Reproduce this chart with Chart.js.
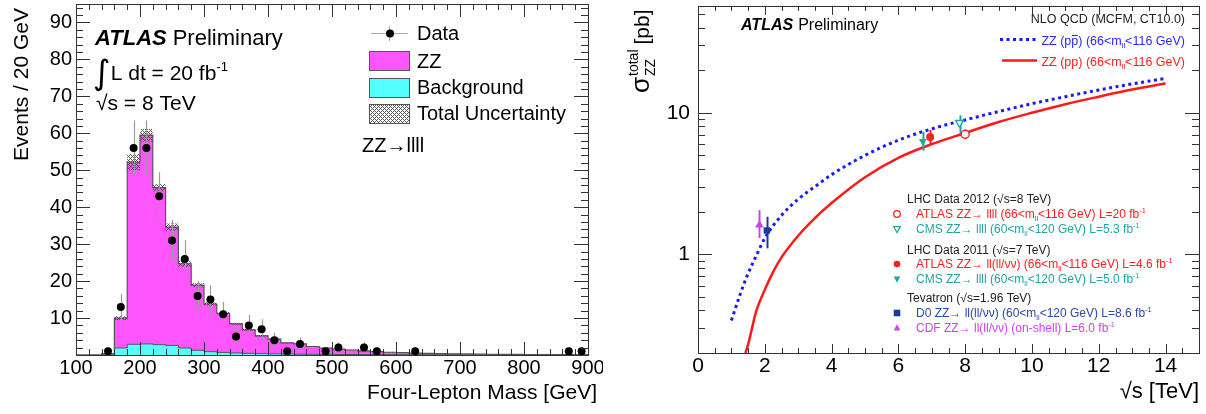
<!DOCTYPE html>
<html>
<head>
<meta charset="utf-8">
<script src="https://cdn.jsdelivr.net/npm/chart.js@4.4.0/dist/chart.umd.min.js"></script>
<style>
  html, body { margin: 0; padding: 0; background: #fff; }
  #wrap { position: relative; width: 1206px; height: 414px; }
  .panel { position: absolute; top: 0; width: 603px; height: 414px; }
  #leftPanel { left: 0; }
  #rightPanel { left: 603px; }
</style>
</head>
<body>
<div id="wrap">
  <div class="panel" id="leftPanel"><canvas id="massChart"></canvas></div>
  <div class="panel" id="rightPanel"><canvas id="xsecChart"></canvas></div>
</div>
<script>
// ---- Panel izquierdo: masa de cuatro leptones (bins de 20 GeV) ----
const binWidth = 20;
const binLowEdges = [100, 120, 140, 160, 180, 200, 220, 240, 260, 280,
                     300, 320, 340, 360, 380, 400, 420, 440, 460, 480,
                     500, 520, 540, 560, 580, 600, 620, 640, 660, 680,
                     700, 720, 740, 760, 780, 800, 820, 840, 860, 880];
// ZZ + background (apilado)
const totalExpected = [0, 0, 0.3, 10, 52.2, 59.5, 45.3, 34.6, 24.7, 18.9,
                       13.8, 11.3, 8.4, 6.8, 5.2, 4.3, 3.3, 3.0, 2.3, 1.9,
                       1.6, 1.35, 1.1, 0.9, 0.75, 0.62, 0.52, 0.45, 0.38, 0.32,
                       0.28, 0.24, 0.2, 0.17, 0.15, 0.13, 0.11, 0.09, 0.08, 0.07];
const backgroundExp = [0, 0, 0.2, 1.9, 2.9, 3.0, 2.8, 2.6, 1.9, 1.3,
                       0.9, 0.7, 0.55, 0.45, 0.38, 0.32, 0.27, 0.23, 0.2, 0.17,
                       0.15, 0.13, 0.11, 0.1, 0.09, 0.08, 0.07, 0.06, 0.05, 0.05,
                       0.04, 0.04, 0.03, 0.03, 0.03, 0.02, 0.02, 0.02, 0.02, 0.01];
const totalUncert = [0, 0, 0.05, 0.5, 2.2, 1.7, 1.0, 1.0, 0.9, 0.55,
                     0.4, 0.35, 0.3, 0.25, 0.2, 0.18, 0.15, 0.12, 0.1, 0.09,
                     0.08, 0.07, 0.06, 0.05, 0.05, 0.04, 0.04, 0.03, 0.03, 0.03,
                     0.02, 0.02, 0.02, 0.02, 0.02, 0.01, 0.01, 0.01, 0.01, 0.01];
const dataMass   = [150, 170, 190, 210, 230, 250, 270, 290, 310, 330, 350, 370,
                    390, 410, 430, 450, 490, 510, 550, 570, 630, 870, 890];
const dataEvents = [1, 13, 56, 56, 43, 31, 26, 16, 15, 11, 5, 8,
                    7, 4, 1, 3, 1, 2, 2, 1, 1, 1, 1];
const massTicks = [100, 200, 300, 400, 500, 600, 700, 800, 900];
const eventTicks = [10, 20, 30, 40, 50, 60, 70, 80, 90];

// ---- Panel derecho: sección eficaz ZZ vs sqrt(s) ----
const ppbarSqrtS = [1.0, 1.25, 1.5, 1.75, 2.0, 2.5, 3, 3.5, 4, 5, 6, 7, 8, 9, 10, 11, 12, 13, 14];
const ppbarXsec  = [0.34, 0.51, 0.73, 0.98, 1.3, 1.88, 2.45, 3.0, 3.65, 5.0, 6.4, 7.7, 8.9, 10.2, 11.6, 13.0, 14.5, 16.0, 17.5];
const ppSqrtS    = [1.42, 1.5, 1.75, 2.0, 2.25, 2.5, 3, 3.5, 4, 5, 6, 7, 8, 9, 10, 11, 12, 13, 14];
const ppXsec     = [0.2, 0.23, 0.4, 0.56, 0.75, 0.95, 1.35, 1.8, 2.3, 3.5, 4.8, 6.0, 7.2, 8.6, 10.0, 11.5, 13.0, 14.6, 16.1];
const measNames   = ['ATLAS 2012', 'CMS 2012', 'ATLAS 2011', 'CMS 2011', 'D0', 'CDF'];
const measSqrtS   = [8.0, 7.83, 6.95, 6.73, 2.06, 1.84];
const measXsec    = [7.05, 8.5, 6.75, 6.3, 1.47, 1.61];
const measErrUp   = [0.55, 1.1, 0.8, 1.0, 0.37, 0.44];
const measErrDown = [0.55, 1.4, 0.9, 0.9, 0.37, 0.31];
const sqrtSTicks = [0, 2, 4, 6, 8, 10, 12, 14];
const xsecTicks = [1, 10];

const FONT = '"Liberation Sans", Arial, Helvetica, sans-serif';
Chart.defaults.font.family = FONT;
Chart.defaults.color = '#000';
Chart.defaults.animation = false;
Chart.defaults.plugins.legend.display = false;
Chart.defaults.plugins.tooltip.enabled = false;

// patrón de la incertidumbre (rayado cruzado)
function makeHatch() {
    const c = document.createElement('canvas');
    c.width = 4; c.height = 4;
    const g = c.getContext('2d');
    g.fillStyle = 'rgba(70,70,70,0.9)';
    for (let i = 0; i < 4; i++) {
        for (let j = 0; j < 4; j++) {
            if ((i + j) % 4 === 0 || (i - j + 4) % 4 === 0) g.fillRect(i, j, 1, 1);
        }
    }
    return g.createPattern(c, 'repeat');
}
const hatch = makeHatch();

function stepPoints(values) {
    const pts = binLowEdges.map((x, i) => ({ x, y: values[i] }));
    pts.push({ x: binLowEdges[binLowEdges.length - 1] + binWidth, y: values[values.length - 1] });
    return pts;
}

// barras de error verticales, dibujadas justo antes de los puntos
const errorBars = {
    id: 'errorBars',
    beforeDatasetDraw(chart, args) {
        const ds = chart.data.datasets[args.index];
        if (!ds.errUp) return;
        const { ctx, chartArea: a, scales: { x, y } } = chart;
        ctx.save();
        ctx.beginPath();
        ctx.rect(a.left, a.top, a.right - a.left, a.bottom - a.top);
        ctx.clip();
        ctx.strokeStyle = ds.errColor;
        ctx.lineWidth = ds.errWidth;
        ctx.beginPath();
        ds.data.forEach((p, i) => {
            const px = Math.round(x.getPixelForValue(p.x)) + 0.5;
            const lo = Math.max(p.y - ds.errDown[i], y.min);
            ctx.moveTo(px, y.getPixelForValue(p.y + ds.errUp[i]));
            ctx.lineTo(px, y.getPixelForValue(lo));
        });
        ctx.stroke();
        ctx.restore();
    }
};
Chart.register(errorBars);

// marco estilo ROOT con marcas hacia dentro en los cuatro lados
function rootFrame(spec) {
    return {
        id: 'rootFrame',
        afterDatasetsDraw(chart) {
            const { ctx, chartArea: a, scales: { x, y } } = chart;
            ctx.save();
            ctx.strokeStyle = '#333';
            ctx.lineWidth = 1;
            ctx.beginPath();
            const tx = (v, len) => {
                const p = Math.round(x.getPixelForValue(v)) + 0.5;
                ctx.moveTo(p, a.bottom); ctx.lineTo(p, a.bottom - len);
                ctx.moveTo(p, a.top); ctx.lineTo(p, a.top + len);
            };
            const ty = (v, len) => {
                const p = Math.round(y.getPixelForValue(v)) + 0.5;
                ctx.moveTo(a.left, p); ctx.lineTo(a.left + len, p);
                ctx.moveTo(a.right, p); ctx.lineTo(a.right - len, p);
            };
            spec.xMinor.forEach(v => tx(v, spec.xMinorLen));
            spec.xMajor.forEach(v => tx(v, spec.xMajorLen));
            spec.yMinor.forEach(v => ty(v, spec.yMinorLen));
            spec.yMajor.forEach(v => ty(v, spec.yMajorLen));
            ctx.stroke();
            ctx.strokeRect(Math.round(a.left) + 0.5, Math.round(a.top) + 0.5,
                Math.round(a.right - a.left), Math.round(a.bottom - a.top));
            ctx.restore();
        }
    };
}

// texto con subíndices / superíndices
function drawRich(ctx, x, y, parts, size, color, align) {
    ctx.save();
    ctx.fillStyle = color;
    ctx.strokeStyle = color;
    ctx.textBaseline = 'alphabetic';
    ctx.textAlign = 'left';
    const base = y + size * 0.36;
    const segs = parts.map(p => typeof p === 'string' ? { t: p } : p);
    const fontOf = s => (s.style || '') + ' ' + ((s.sub || s.sup) ? size * 0.62 : (s.size || size)) + 'px ' + (s.family || FONT);
    let total = 0;
    segs.forEach(s => { ctx.font = fontOf(s); s.w = ctx.measureText(s.t).width + (s.gap || 0); total += s.w; });
    let cx = align === 'right' ? x - total : x;
    segs.forEach(s => {
        ctx.font = fontOf(s);
        let dy = 0;
        if (s.sup) dy = -size * 0.42;
        if (s.sub) dy = size * 0.24;
        if (s.dy) dy += s.dy;
        ctx.fillText(s.t, cx, base + dy);
        if (s.bar) {
            ctx.lineWidth = 1;
            ctx.beginPath();
            ctx.moveTo(cx + 0.5, base - size * 0.72);
            ctx.lineTo(cx + s.w - 0.5, base - size * 0.72);
            ctx.stroke();
        }
        cx += s.w;
    });
    ctx.restore();
    return total;
}

function marker(ctx, kind, x, y, r, color, open, rot) {
    ctx.save();
    ctx.translate(x, y);
    ctx.rotate(rot || 0);
    ctx.beginPath();
    if (kind === 'circle') ctx.arc(0, 0, r, 0, 2 * Math.PI);
    else if (kind === 'triangle') { ctx.moveTo(0, -r * 1.1); ctx.lineTo(r, r * 0.75); ctx.lineTo(-r, r * 0.75); ctx.closePath(); }
    else ctx.rect(-r, -r, 2 * r, 2 * r);
    if (open) { ctx.strokeStyle = color; ctx.lineWidth = 1.2; ctx.stroke(); }
    else { ctx.fillStyle = color; ctx.fill(); }
    ctx.restore();
}

const ZZ_FILL = '#ff55ff';
const BKG_FILL = '#55ffff';

// textos y leyenda del panel izquierdo
const massText = {
    id: 'massText',
    afterDraw(chart) {
        const ctx = chart.ctx;
        ctx.save();
        ctx.fillStyle = '#000';
        ctx.font = '21px ' + FONT;
        ctx.translate(28, 8);
        ctx.rotate(-Math.PI / 2);
        ctx.textAlign = 'right';
        ctx.fillText('Events / 20 GeV', 0, 0);
        ctx.restore();

        ctx.save();
        ctx.font = '21px ' + FONT;
        ctx.textAlign = 'right';
        ctx.textBaseline = 'middle';
        ctx.fillText('Four-Lepton Mass [GeV]', 597, 393);
        ctx.restore();

        drawRich(ctx, 95, 37, [{ t: 'ATLAS', style: 'italic bold', gap: 6 }, 'Preliminary'], 22, '#000');
        drawRich(ctx, 93, 72, [{ t: '\u222B', size: 34, family: '"DejaVu Sans"', dy: 4 }, 'L dt = 20 fb', { t: '-1', sup: true }], 21, '#000');
        drawRich(ctx, 96, 102, ['\u221As = 8 TeV'], 21, '#000');
        drawRich(ctx, 362, 145, ['ZZ\u2192llll'], 20, '#000');

        // leyenda
        ctx.save();
        ctx.strokeStyle = '#aaa';
        ctx.lineWidth = 1;
        ctx.beginPath();
        ctx.moveTo(371, 33.5); ctx.lineTo(408, 33.5);
        ctx.moveTo(389.5, 26); ctx.lineTo(389.5, 41);
        ctx.stroke();
        marker(ctx, 'circle', 390, 33.5, 4, '#000', false);
        const boxes = [[51, ZZ_FILL], [78, BKG_FILL], [104, hatch]];
        boxes.forEach(([top, fill]) => {
            ctx.fillStyle = fill;
            ctx.fillRect(369, top, 40, 19);
            ctx.strokeStyle = '#555';
            ctx.strokeRect(369.5, top + 0.5, 40, 19);
        });
        ctx.restore();
        drawRich(ctx, 417, 33, ['Data'], 20, '#000');
        drawRich(ctx, 417, 61, ['ZZ'], 20, '#000');
        drawRich(ctx, 417, 87, ['Background'], 20, '#000');
        drawRich(ctx, 417, 113, ['Total Uncertainty'], 20, '#000');
    }
};

// ---- gráfico izquierdo ----
const upperBand = totalExpected.map((v, i) => v + totalUncert[i]);
const lowerBand = totalExpected.map((v, i) => Math.max(v - totalUncert[i], 0));

new Chart(document.getElementById('massChart'), {
    type: 'line',
    data: {
        datasets: [
            {
                label: 'Data',
                data: dataMass.map((x, i) => ({ x, y: dataEvents[i] })),
                showLine: false,
                pointRadius: 4,
                pointBackgroundColor: '#000',
                pointBorderWidth: 0,
                errUp: dataEvents.map(n => Math.sqrt(n)),
                errDown: dataEvents.map(n => Math.sqrt(n)),
                errColor: '#9a9a9a',
                errWidth: 1.2
            },
            {
                label: 'Total Uncertainty',
                data: stepPoints(upperBand),
                stepped: true,
                borderColor: 'rgba(0,0,0,0)',
                borderWidth: 1,
                pointRadius: 0,
                fill: '+1',
                backgroundColor: hatch
            },
            {
                label: 'band low',
                data: stepPoints(lowerBand),
                stepped: true,
                borderColor: 'rgba(0,0,0,0)',
                borderWidth: 1,
                pointRadius: 0,
                fill: false
            },
            {
                label: 'Background',
                data: stepPoints(backgroundExp),
                stepped: true,
                borderColor: '#555',
                borderWidth: 1,
                pointRadius: 0,
                fill: 'origin',
                backgroundColor: BKG_FILL
            },
            {
                label: 'ZZ',
                data: stepPoints(totalExpected),
                stepped: true,
                borderColor: '#555',
                borderWidth: 1.2,
                pointRadius: 0,
                fill: 'origin',
                backgroundColor: ZZ_FILL
            }
        ]
    },
    options: {
        responsive: true,
        maintainAspectRatio: false,
        events: [],
        layout: { padding: { top: 3, right: 15, left: 0, bottom: 0 } },
        scales: {
            x: {
                type: 'linear', min: 100, max: 900,
                afterBuildTicks: s => { s.ticks = massTicks.map(v => ({ value: v })); },
                ticks: { font: { size: 20 }, color: '#000', padding: 1, maxRotation: 0, autoSkip: false },
                grid: { display: false, drawTicks: false },
                border: { display: false },
                afterFit: s => { s.height = 59; s.paddingLeft = 0; s.paddingRight = 0; }
            },
            y: {
                type: 'linear', min: 0, max: 95,
                afterBuildTicks: s => { s.ticks = eventTicks.map(v => ({ value: v })); },
                ticks: { font: { size: 20 }, color: '#000', padding: 4 },
                grid: { display: false, drawTicks: false },
                border: { display: false },
                afterFit: s => { s.width = 76; s.paddingTop = 0; s.paddingBottom = 0; }
            }
        }
    },
    plugins: [
        rootFrame({
            xMajor: massTicks, xMinor: Array.from({ length: 41 }, (_, i) => 100 + 20 * i),
            yMajor: eventTicks, yMinor: Array.from({ length: 48 }, (_, i) => 2 * i),
            xMajorLen: 13, xMinorLen: 6, yMajorLen: 14, yMinorLen: 7
        }),
        massText
    ]
});

// ---- gráfico derecho ----
const measStyle = [
    { color: '#ff2020', point: 'circle', rot: 0, open: true, r: 4 },
    { color: '#1fa5a5', point: 'triangle', rot: 180, open: true, r: 4.5 },
    { color: '#ff2020', point: 'circle', rot: 0, open: false, r: 4 },
    { color: '#1fa5a5', point: 'triangle', rot: 180, open: false, r: 4.5 },
    { color: '#1a3c96', point: 'rect', rot: 0, open: false, r: 4.5 },
    { color: '#cc44ee', point: 'triangle', rot: 0, open: false, r: 5 }
];

const measDatasets = measNames.map((name, i) => {
    const st = measStyle[i];
    return {
        label: name,
        data: [{ x: measSqrtS[i], y: measXsec[i] }],
        showLine: false,
        pointStyle: st.point,
        pointRotation: st.rot,
        pointRadius: st.r,
        pointBackgroundColor: st.open ? '#fff' : st.color,
        pointBorderColor: st.color,
        pointBorderWidth: st.open ? 1.4 : 0,
        errUp: [measErrUp[i]],
        errDown: [measErrDown[i]],
        errColor: st.color,
        errWidth: 2
    };
});

const xsecText = {
    id: 'xsecText',
    afterDraw(chart) {
        const ctx = chart.ctx;
        // título eje y
        ctx.save();
        ctx.translate(46, 93);
        ctx.rotate(-Math.PI / 2);
        ctx.fillStyle = '#000';
        ctx.textBaseline = 'alphabetic';
        ctx.font = '26px ' + FONT;
        ctx.fillText('\u03C3', 0, 0);
        let w = ctx.measureText('\u03C3').width + 1;
        ctx.font = '14px ' + FONT;
        ctx.fillText('total', w, -11);
        ctx.fillText('ZZ', w, 6);
        w += ctx.measureText('total').width + 5;
        ctx.font = '21px ' + FONT;
        ctx.fillText('[pb]', w, 0);
        ctx.restore();

        ctx.save();
        ctx.font = '22px ' + FONT;
        ctx.textAlign = 'right';
        ctx.textBaseline = 'middle';
        ctx.fillText('\u221As [TeV]', 596, 392);
        ctx.restore();

        drawRich(ctx, 138, 24, [{ t: 'ATLAS', style: 'italic bold', gap: 5 }, 'Preliminary'], 16, '#000');
        drawRich(ctx, 582, 18, ['NLO QCD (MCFM, CT10.0)'], 12.5, '#222', 'right');

        ctx.save();
        ctx.strokeStyle = '#1a1aff';
        ctx.lineWidth = 3;
        ctx.setLineDash([3, 3.5]);
        ctx.beginPath(); ctx.moveTo(397, 39.5); ctx.lineTo(433, 39.5); ctx.stroke();
        ctx.setLineDash([]);
        ctx.strokeStyle = '#ff1a1a';
        ctx.lineWidth = 2.5;
        ctx.beginPath(); ctx.moveTo(399, 60.5); ctx.lineTo(434, 60.5); ctx.stroke();
        ctx.restore();
        drawRich(ctx, 582, 40, ['ZZ (p', { t: 'p', bar: true }, ') (66<m', { t: 'll', sub: true }, '<116 GeV)'], 12.5, '#2a2aff', 'right');
        drawRich(ctx, 582, 61, ['ZZ (pp) (66<m', { t: 'll', sub: true }, '<116 GeV)'], 12.5, '#ff2020', 'right');

        // leyenda de medidas
        const head = '#222';
        const tx = 313, hx = 304, mx = 294;
        drawRich(ctx, hx, 199, ['LHC Data 2012 (\u221As=8 TeV)'], 12, head);
        drawRich(ctx, tx, 214, ['ATLAS ZZ\u2192 llll (66<m', { t: 'll', sub: true }, '<116 GeV) L=20 fb', { t: '-1', sup: true }], 12, measStyle[0].color);
        drawRich(ctx, tx, 229, ['CMS ZZ\u2192 llll (60<m', { t: 'll', sub: true }, '<120 GeV) L=5.3 fb', { t: '-1', sup: true }], 12, measStyle[1].color);
        drawRich(ctx, hx, 250, ['LHC Data 2011 (\u221As=7 TeV)'], 12, head);
        drawRich(ctx, tx, 264, ['ATLAS ZZ\u2192 ll(ll/\u03BD\u03BD) (66<m', { t: 'll', sub: true }, '<116 GeV) L=4.6 fb', { t: '-1', sup: true }], 12, measStyle[2].color);
        drawRich(ctx, tx, 279, ['CMS ZZ\u2192 llll (60<m', { t: 'll', sub: true }, '<120 GeV) L=5.0 fb', { t: '-1', sup: true }], 12, measStyle[3].color);
        drawRich(ctx, hx, 298, ['Tevatron (\u221As=1.96 TeV)'], 12, head);
        drawRich(ctx, tx, 313, ['D0 ZZ\u2192 ll(ll/\u03BD\u03BD) (60<m', { t: 'll', sub: true }, '<120 GeV) L=8.6 fb', { t: '-1', sup: true }], 12, '#2a48a8');
        drawRich(ctx, tx, 328, ['CDF ZZ\u2192 ll(ll/\u03BD\u03BD) (on-shell) L=6.0 fb', { t: '-1', sup: true }], 12, measStyle[5].color);
        const rows = [214, 229, 264, 279, 313, 328];
        rows.forEach((yy, i) => {
            const st = measStyle[i];
            marker(ctx, st.point, mx, yy, 3.3, st.color, st.open, st.rot * Math.PI / 180);
        });
    }
};

new Chart(document.getElementById('xsecChart'), {
    type: 'line',
    data: {
        datasets: [
            ...measDatasets,
            {
                label: 'ZZ (ppbar)',
                data: ppbarSqrtS.map((x, i) => ({ x, y: ppbarXsec[i] })),
                borderColor: '#1a1aff',
                borderWidth: 3,
                borderDash: [3, 3.5],
                pointRadius: 0,
                cubicInterpolationMode: 'monotone',
                fill: false
            },
            {
                label: 'ZZ (pp)',
                data: ppSqrtS.map((x, i) => ({ x, y: ppXsec[i] })),
                borderColor: '#ff1a1a',
                borderWidth: 2.5,
                pointRadius: 0,
                cubicInterpolationMode: 'monotone',
                fill: false
            }
        ]
    },
    options: {
        responsive: true,
        maintainAspectRatio: false,
        events: [],
        layout: { padding: { top: 2, right: 7, left: 0, bottom: 0 } },
        scales: {
            x: {
                type: 'linear', min: 0, max: 15,
                afterBuildTicks: s => { s.ticks = sqrtSTicks.map(v => ({ value: v })); },
                ticks: { font: { size: 21 }, color: '#000', padding: 1, maxRotation: 0, autoSkip: false },
                grid: { display: false, drawTicks: false },
                border: { display: false },
                afterFit: s => { s.height = 61; s.paddingLeft = 0; s.paddingRight = 0; }
            },
            y: {
                type: 'logarithmic', min: 0.2, max: 57,
                afterBuildTicks: s => { s.ticks = xsecTicks.map(v => ({ value: v })); },
                ticks: { font: { size: 21 }, color: '#000', padding: 8, callback: v => String(v) },
                grid: { display: false, drawTicks: false },
                border: { display: false },
                afterFit: s => { s.width = 95; s.paddingTop = 0; s.paddingBottom = 0; }
            }
        }
    },
    plugins: [
        rootFrame({
            xMajor: sqrtSTicks, xMinor: Array.from({ length: 31 }, (_, i) => 0.5 * i),
            yMajor: xsecTicks,
            yMinor: [0.2, 0.3, 0.4, 0.5, 0.6, 0.7, 0.8, 0.9, 2, 3, 4, 5, 6, 7, 8, 9, 20, 30, 40, 50],
            xMajorLen: 9, xMinorLen: 5, yMajorLen: 14, yMinorLen: 7
        }),
        xsecText
    ]
});
</script>
</body>
</html>
